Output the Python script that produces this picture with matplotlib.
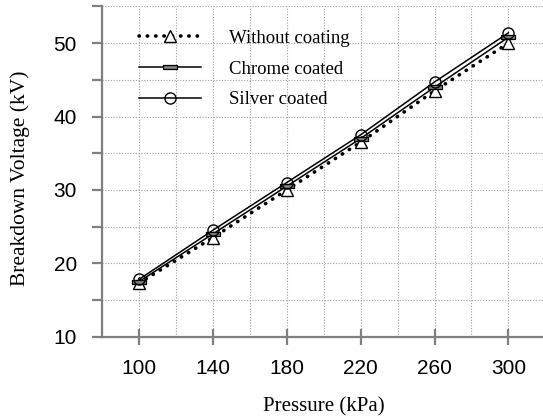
import matplotlib.pyplot as plt
import numpy as np

# data
pressure = [100, 140, 180, 220, 260, 300]
without_coating = [17.3, 23.5, 30.0, 36.5, 43.5, 50.0]
chrome_coated = [17.5, 24.0, 30.5, 37.0, 44.0, 50.8]
silver_coated = [17.8, 24.5, 31.0, 37.5, 44.7, 51.4]

serif = ['Liberation Serif', 'DejaVu Serif']
sans = ['Liberation Sans', 'DejaVu Sans']

fig = plt.figure(figsize=(5.43, 4.16), dpi=100)
ax = fig.add_axes([0.1878, 0.1906, 0.8166, 0.794])

rect = [(-1, -0.32), (1, -0.32), (1, 0.32), (-1, 0.32), (-1, -0.32)]

ax.plot(pressure, without_coating, color='black', linestyle=(0, (0.1, 2.2)),
        dash_capstyle='round', linewidth=2.6, marker='^', markersize=8.5,
        markerfacecolor='white', markeredgecolor='black', markeredgewidth=1.0,
        label='Without coating', zorder=3)
ax.plot(pressure, chrome_coated, color='black', linewidth=1.1, marker=rect,
        markersize=10, markerfacecolor='#808080', markeredgecolor='black',
        markeredgewidth=0.9, label='Chrome coated', zorder=4)
ax.plot(pressure, silver_coated, color='black', linewidth=1.1, marker='o',
        markersize=8, markerfacecolor='none', markeredgecolor='black',
        markeredgewidth=1.0, label='Silver coated', zorder=5)

ax.set_xlim(80, 320)
ax.set_ylim(10, 55)

ax.set_xticks([100, 140, 180, 220, 260, 300])
ax.set_xticks(np.arange(80, 321, 20), minor=True)
ax.set_yticks(np.arange(10, 56, 5))
ax.set_yticklabels([str(v) if v % 10 == 0 else '' for v in range(10, 56, 5)])

ax.grid(True, which='both', axis='x', color='#a0a0a0', linestyle=(0, (1, 1.5)), linewidth=0.8)
ax.grid(True, which='major', axis='y', color='#a0a0a0', linestyle=(0, (1, 1.5)), linewidth=0.8)
ax.set_axisbelow(True)

for side in ['top', 'right']:
    ax.spines[side].set_visible(False)
for side in ['left', 'bottom']:
    ax.spines[side].set_color('#808080')
    ax.spines[side].set_linewidth(1.6)

ax.tick_params(axis='x', which='major', direction='inout', length=12, width=1.6,
               color='#808080', pad=10)
ax.tick_params(axis='x', which='minor', length=0)
ax.tick_params(axis='y', direction='out', length=7, width=1.6, color='#808080', pad=11)
for lab in ax.get_xticklabels() + ax.get_yticklabels():
    lab.set_fontfamily(sans)
    lab.set_fontsize(15)

ax.set_xlabel('Pressure (kPa)', fontfamily=serif, fontsize=15, labelpad=14)
ax.set_ylabel('Breakdown Voltage (kV)', fontfamily=serif, fontsize=15.5)
ax.yaxis.set_label_coords(-0.162, 0.48)

leg = ax.legend(loc='upper left', bbox_to_anchor=(0.045, 0.98), frameon=False,
                handlelength=3.3, handletextpad=1.5, labelspacing=0.72,
                prop={'family': serif, 'size': 13.5})

fig.savefig('out.png', dpi=100)
